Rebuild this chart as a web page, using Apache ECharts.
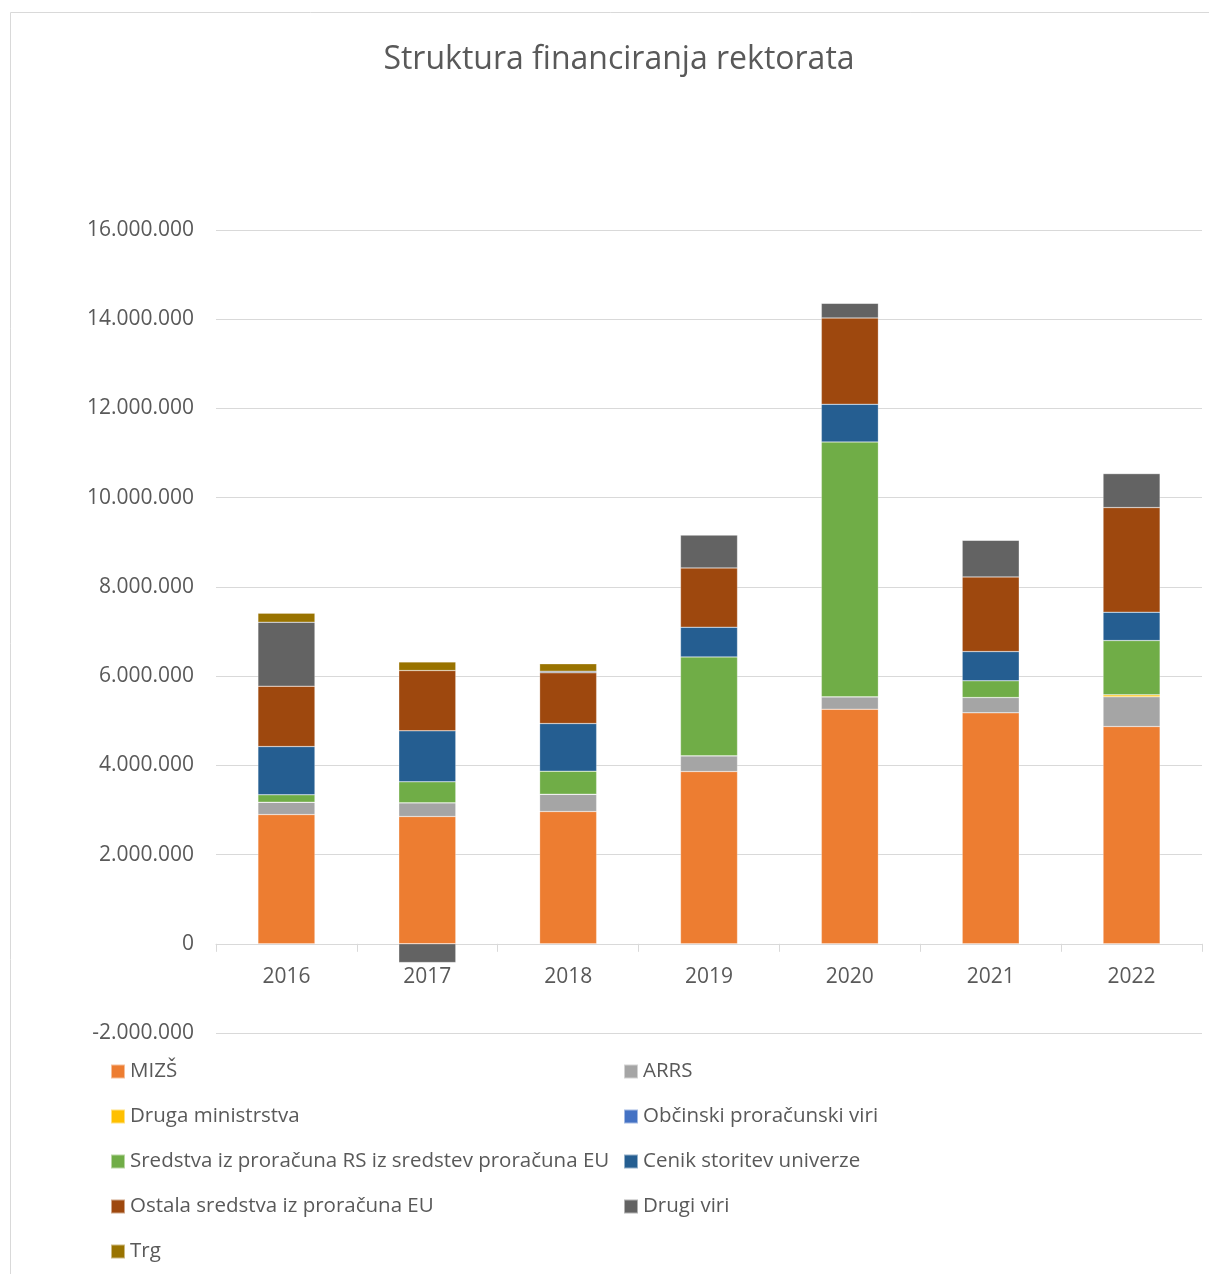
<!DOCTYPE html>
<html><head><meta charset="utf-8">
<script src="https://cdn.jsdelivr.net/npm/echarts@6/dist/echarts.min.js"></script>
<style>html,body{margin:0;padding:0;background:#fff}#c{width:1209px;height:1274px}</style>
</head><body><div id="c"></div>
<script>
const years = ['2016','2017','2018','2019','2020','2021','2022'];
const seriesNames = ['MIZŠ','ARRS','Druga ministrstva','Občinski proračunski viri','Sredstva iz proračuna RS iz sredstev proračuna EU','Cenik storitev univerze','Ostala sredstva iz proračuna EU','Drugi viri','Trg'];
const mizs      = [2897000, 2853000, 2965000, 3861000, 5259000, 5176000, 4870000];
const arrs      = [278000, 307000, 389000, 352000, 276000, 344000, 665000];
const druga     = [0, 0, 0, 0, 0, 0, 45000];
const obcinski  = [0, 0, 0, 0, 0, 0, 0];
const sredstva  = [164000, 470000, 516000, 2218000, 5714000, 374000, 1217000];
const cenik     = [1082000, 1143000, 1067000, 666000, 845000, 656000, 636000];
const ostala    = [1354000, 1352000, 1136000, 1329000, 1934000, 1674000, 2345000];
const drugi     = [1434000, -420000, 38000, 739000, 329000, 822000, 762000];
const trg       = [202000, 194000, 164000, 0, 0, 0, 0];
const colors = ['#ED7D31','#A5A5A5','#FFC000','#4472C4','#70AD47','#255E91','#9E480E','#636363','#997300'];
const allData = [mizs, arrs, druga, obcinski, sredstva, cenik, ostala, drugi, trg];

function fmt(v){ if(v<0) return '-' + fmt(-v); return String(Math.round(v)).replace(/\B(?=(\d{3})+(?!\d))/g,'.'); }

const FONT = 'Open Sans';
const chart = echarts.init(document.getElementById('c'));
const legendText = {color:'#595959', fontSize:20.5, fontFamily:FONT, lineHeight:20};
chart.setOption({
  animation:false,
  color: colors,
  title:{text:'Struktura financiranja rektorata', left:614, top:39, textAlign:'center',
    textStyle:{color:'#595959', fontSize:32, fontWeight:'normal', fontFamily:FONT}},
  graphic:[{type:'rect', shape:{x:10.5,y:12.5,width:1210,height:1280}, style:{fill:'none', stroke:'#D9D9D9', lineWidth:1}, silent:true}],
  grid:{left:216, right:7, top:230, bottom:241, containLabel:false},
  legend:[
    {orient:'vertical', left:105, top:1056, itemWidth:14, itemHeight:14, itemGap:24, icon:'rect',
     data:[seriesNames[0],seriesNames[2],seriesNames[4],seriesNames[6],seriesNames[8]], textStyle:legendText},
    {orient:'vertical', left:618, top:1056, itemWidth:14, itemHeight:14, itemGap:24, icon:'rect',
     data:[seriesNames[1],seriesNames[3],seriesNames[5],seriesNames[7]], textStyle:legendText}
  ],
  xAxis:{type:'category', data:years, offset:-89.2,
    axisLine:{onZero:false, lineStyle:{color:'#D9D9D9', width:1}},
    axisTick:{show:true, length:8, lineStyle:{color:'#D9D9D9'}},
    axisLabel:{color:'#595959', fontSize:21, fontFamily:FONT, margin:23}},
  yAxis:{type:'value', min:-2000000, max:16000000, interval:2000000,
    axisLine:{show:false}, axisTick:{show:false},
    splitLine:{lineStyle:{color:'#D9D9D9', width:1}},
    axisLabel:{color:'#595959', fontSize:21, fontFamily:FONT, margin:22, formatter:fmt}},
  series: seriesNames.map((n,i)=>({
    name:n, type:'bar', stack:'total', data:allData[i], barWidth:57,
    itemStyle:{color:colors[i], borderColor:'rgba(255,255,255,0.5)', borderWidth:0.5}
  }))
});
</script></body></html>
